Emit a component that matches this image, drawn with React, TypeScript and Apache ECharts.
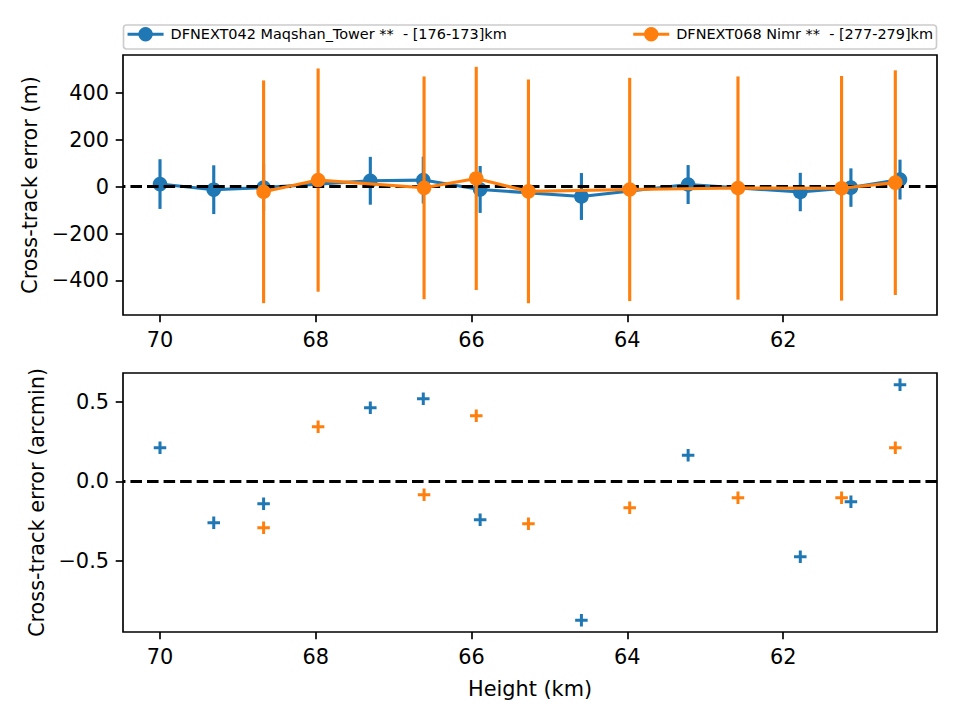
import React, { useEffect, useRef } from "react";
import * as echarts from "echarts";

// Station labels
const stationA = "DFNEXT042 Maqshan_Tower **  - [176-173]km";
const stationB = "DFNEXT068 Nimr **  - [277-279]km";

// Station A (Maqshan Tower): height (km), cross-track error (m), 1-sigma (m), error (arcmin)
const heightsA = [70.0, 69.31, 68.67, 67.3, 66.62, 65.89, 64.59, 63.22, 61.78, 61.13, 60.5];
const errorMA = [11, -13, -4, 25, 28, -12, -42, 9, -23, -4, 30];
const sigmaMA = [106, 104, 100, 102, 100, 100, 100, 83, 82, 82, 85];
const arcminA = [0.212, -0.261, -0.141, 0.464, 0.521, -0.242, -0.876, 0.164, -0.475, -0.128, 0.609];

// Station B (Nimr)
const heightsB = [68.67, 67.97, 66.61, 65.94, 65.27, 63.97, 62.58, 61.25, 60.56];
const errorMB = [-22, 28, -5, 35, -20, -12, -6, -7, 17];
const sigmaMB = [475, 476, 475, 476, 477, 476, 476, 479, 479];
const arcminB = [-0.292, 0.345, -0.084, 0.414, -0.267, -0.166, -0.103, -0.103, 0.212];

// Tick positions
const heightTicks = [62, 64, 66, 68, 70];
const metreTicks = [-400, -200, 0, 200, 400];
const arcminTicks = [-0.5, 0, 0.5];

const BLUE = "#1f77b4";
const ORANGE = "#ff7f0e";
const FONT = "DejaVu Sans";
const PT = 150 / 72;
const MARKER = 7 * PT; // 6pt marker plus its 1pt edge

// autoscale with 5% margins on each side
const padded = (vals: number[]): [number, number] => {
  const lo = Math.min(...vals);
  const hi = Math.max(...vals);
  const d = (hi - lo) * 0.05;
  return [lo - d, hi + d];
};

const minus = (s: string) => s.replace("-", "\u2212");

const PLUS = "path://M9.5,0H15.5V9.5H25V15.5H15.5V25H9.5V15.5H0V9.5H9.5Z";

function errorBars(color: string) {
  return (_params: any, api: any) => {
    const x = api.value(0);
    const y = api.value(1);
    const s = api.value(2);
    const top = api.coord([x, y + s]);
    const bot = api.coord([x, y - s]);
    return {
      type: "line",
      shape: { x1: top[0], y1: top[1], x2: bot[0], y2: bot[1] },
      style: { stroke: color, lineWidth: 1.5 * PT },
    };
  };
}

function buildOption() {
  const xRange = padded([...heightsA, ...heightsB]);
  const topRange = padded([
    ...errorMA.map((v, i) => v - sigmaMA[i]),
    ...errorMA.map((v, i) => v + sigmaMA[i]),
    ...errorMB.map((v, i) => v - sigmaMB[i]),
    ...errorMB.map((v, i) => v + sigmaMB[i]),
  ]);
  const botRange = padded([...arcminA, ...arcminB]);

  const tickStyle = { color: "#000", width: 0.8 * PT };
  const labelStyle = { fontSize: 10 * PT, color: "#000", fontFamily: FONT };

  const xAxis = (gridIndex: number, withName: boolean) => ({
    type: "value",
    gridIndex,
    inverse: true,
    min: xRange[0],
    max: xRange[1],
    axisLine: { show: false, onZero: false },
    splitLine: { show: false },
    axisTick: { show: true, length: 3.5 * PT, lineStyle: tickStyle, customValues: heightTicks },
    axisLabel: { ...labelStyle, margin: 14, customValues: heightTicks, formatter: (v: number) => String(v) },
    name: withName ? "Height (km)" : "",
    nameLocation: "middle",
    nameGap: 46,
    nameTextStyle: labelStyle,
  });

  const yAxis = (gridIndex: number, range: [number, number], ticks: number[], name: string, gap: number, fmt: (v: number) => string) => ({
    type: "value",
    gridIndex,
    min: range[0],
    max: range[1],
    axisLine: { show: false, onZero: false },
    splitLine: { show: false },
    axisTick: { show: true, length: 3.5 * PT, lineStyle: tickStyle, customValues: ticks },
    axisLabel: { ...labelStyle, margin: 14, customValues: ticks, formatter: fmt },
    name,
    nameLocation: "middle",
    nameGap: gap,
    nameTextStyle: labelStyle,
  });

  const zeroLine = {
    silent: true,
    symbol: "none",
    label: { show: false },
    lineStyle: { color: "#000", width: 1.5 * PT, type: [5.55 * PT, 2.4 * PT] },
    data: [{ yAxis: 0 }],
  };

  const legendBase = {
    top: 27,
    padding: 0,
    itemWidth: 36,
    itemHeight: 18,
    lineStyle: { width: 1.5 * PT },
    textStyle: { fontSize: 6.94 * PT, color: "#000", fontFamily: FONT, padding: [0, 0, 0, 2] },
  };

  return {
    animation: false,
    backgroundColor: "#fff",
    textStyle: { fontFamily: FONT },
    grid: [
      { left: 123, top: 55, width: 814, height: 260, show: true, borderColor: "#000", borderWidth: 0.8 * PT, backgroundColor: "transparent" },
      { left: 123, top: 373, width: 814, height: 259, show: true, borderColor: "#000", borderWidth: 0.8 * PT, backgroundColor: "transparent" },
    ],
    xAxis: [xAxis(0, false), xAxis(1, true)],
    yAxis: [
      yAxis(0, topRange, metreTicks, "Cross-track error (m)", 81, (v) => minus(String(v))),
      yAxis(1, botRange, arcminTicks, "Cross-track error (arcmin)", 75, (v) => minus(v.toFixed(1))),
    ],
    legend: [
      { ...legendBase, data: [stationA], left: 126 },
      { ...legendBase, data: [stationB], right: 27 },
    ],
    graphic: [
      {
        type: "rect",
        z: 0,
        shape: { x: 123.5, y: 25, width: 813, height: 24, r: 3 },
        style: { fill: "rgba(255,255,255,0.8)", stroke: "#cccccc", lineWidth: 0.8 * PT },
      },
    ],
    series: [
      {
        type: "custom",
        name: "errA",
        xAxisIndex: 0,
        yAxisIndex: 0,
        z: 2,
        renderItem: errorBars(BLUE),
        encode: { x: 0, y: 1 },
        data: heightsA.map((h, i) => [h, errorMA[i], sigmaMA[i]]),
        markLine: zeroLine,
      },
      {
        type: "line",
        name: stationA,
        xAxisIndex: 0,
        yAxisIndex: 0,
        z: 3,
        color: BLUE,
        symbol: "circle",
        symbolSize: MARKER,
        lineStyle: { width: 1.5 * PT, color: BLUE },
        itemStyle: { color: BLUE },
        data: heightsA.map((h, i) => [h, errorMA[i]]),
      },
      {
        type: "custom",
        name: "errB",
        xAxisIndex: 0,
        yAxisIndex: 0,
        z: 4,
        renderItem: errorBars(ORANGE),
        encode: { x: 0, y: 1 },
        data: heightsB.map((h, i) => [h, errorMB[i], sigmaMB[i]]),
      },
      {
        type: "line",
        name: stationB,
        xAxisIndex: 0,
        yAxisIndex: 0,
        z: 5,
        color: ORANGE,
        symbol: "circle",
        symbolSize: MARKER,
        lineStyle: { width: 1.5 * PT, color: ORANGE },
        itemStyle: { color: ORANGE },
        data: heightsB.map((h, i) => [h, errorMB[i]]),
      },
      {
        type: "scatter",
        name: "arcA",
        xAxisIndex: 1,
        yAxisIndex: 1,
        z: 3,
        symbol: PLUS,
        symbolSize: 12.5,
        itemStyle: { color: BLUE, opacity: 1 },
        data: heightsA.map((h, i) => [h, arcminA[i]]),
        markLine: zeroLine,
      },
      {
        type: "scatter",
        name: "arcB",
        xAxisIndex: 1,
        yAxisIndex: 1,
        z: 4,
        symbol: PLUS,
        symbolSize: 12.5,
        itemStyle: { color: ORANGE, opacity: 1 },
        data: heightsB.map((h, i) => [h, arcminB[i]]),
      },
    ],
  };
}

export default function App() {
  const ref = useRef<HTMLDivElement>(null);
  useEffect(() => {
    if (!ref.current) return;
    const chart = echarts.init(ref.current, undefined, { renderer: "svg" });
    chart.setOption(buildOption() as any);
    return () => chart.dispose();
  }, []);
  return <div ref={ref} style={{ width: 960, height: 720, margin: -8 }} />;
}
